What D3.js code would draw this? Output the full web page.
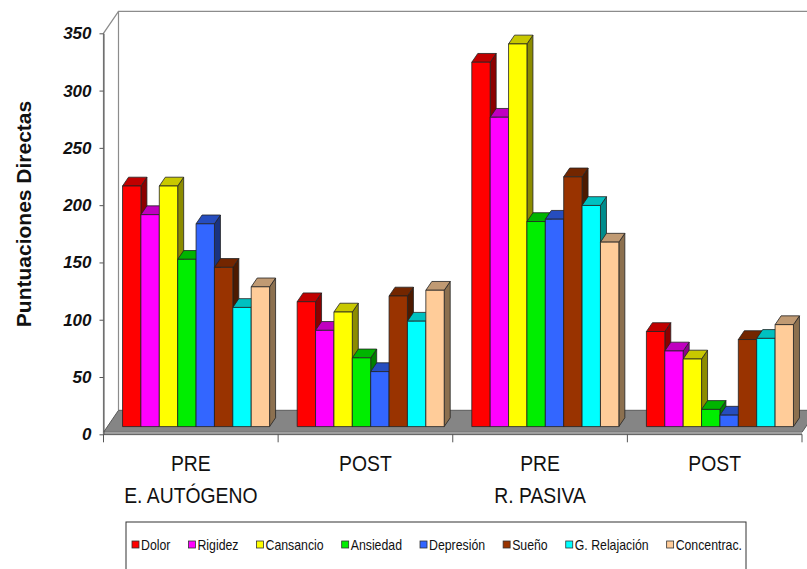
<!DOCTYPE html>
<html>
<head>
<meta charset="utf-8">
<script src="https://cdn.jsdelivr.net/npm/d3@7"></script>
<style>
  html, body { margin: 0; padding: 0; background: #fff; }
  svg { display: block; font-family: "Liberation Sans", Arial, sans-serif; }
</style>
</head>
<body>
<svg id="chart" width="807" height="569"></svg>
<script>
// Groups along the x axis (two-line labels)
const groupLine1 = ["PRE", "POST", "PRE", "POST"];
const groupLine2 = ["E. AUTÓGENO", "", "R. PASIVA", ""];

// Series names
const seriesNames = ["Dolor", "Rigidez", "Cansancio", "Ansiedad", "Depresión", "Sueño", "G. Relajación", "Concentrac."];

// Values per series, one per group
const dolor        = [210, 109, 318, 83];
const rigidez      = [185, 84, 270, 66];
const cansancio    = [210, 100, 334, 59];
const ansiedad     = [146, 60, 179, 15];
const depresion    = [177, 48, 181, 10];
const sueno        = [139, 114, 218, 76];
const gRelajacion  = [104, 92, 193, 77];
const concentrac   = [122, 119, 161, 89];

const yTicks = [0, 50, 100, 150, 200, 250, 300, 350];

// Face colours: front, top, side
const palette = [
  ["#ff0000", "#c00000", "#8c0000"],
  ["#ff00ff", "#c000c0", "#8c008c"],
  ["#ffff00", "#c8c800", "#8c8c00"],
  ["#00ee00", "#00b400", "#008000"],
  ["#3366ff", "#264dbf", "#1a3380"],
  ["#993300", "#732600", "#4d1a00"],
  ["#00ffff", "#00c0c0", "#008c8c"],
  ["#ffcc99", "#c09a73", "#8c704f"]
];

const seriesValues = [dolor, rigidez, cansancio, ansiedad, depresion, sueno, gRelajacion, concentrac];

const svg = d3.select("#chart");

// Front plane geometry and depth vector of the 3D box
const left = 103.5, right = 802;
const depth = { dx: 15, dy: -22 };
const barFront = 0.35, barBack = 0.75;

const y = d3.scaleLinear().domain([0, 350]).range([434.3, 33.3]);
const x0 = d3.scaleBand().domain(d3.range(groupLine1.length)).range([left, right]).padding(0);
const bw = x0.bandwidth();
const gap = bw * 150 / (seriesNames.length * 100 + 150);
const x1 = d3.scaleBand().domain(d3.range(seriesNames.length)).range([gap / 2, bw - gap / 2]).padding(0);

const grey = "#8c8c8c";

// Back wall and left wall outline
const top350 = y(350);
svg.append("path")
  .attr("d", `M${left},${y(0)} L${left},${top350} L${left + depth.dx},${top350 + depth.dy} L${830},${top350 + depth.dy}`)
  .attr("fill", "none").attr("stroke", grey).attr("stroke-width", 1.2);
svg.append("line")
  .attr("x1", left + depth.dx).attr("x2", left + depth.dx)
  .attr("y1", top350 + depth.dy).attr("y2", y(0) - 2 + depth.dy)
  .attr("stroke", grey).attr("stroke-width", 1.2);

// Floor slab
const fy = y(0) - 2;
svg.append("path")
  .attr("d", `M${left},${fy} L${right},${fy} L${right + depth.dx},${fy + depth.dy} L${left + depth.dx},${fy + depth.dy} Z`)
  .attr("fill", "#858585").attr("stroke", "#5a5a5a").attr("stroke-width", 1);
svg.append("path")
  .attr("d", `M${left},${fy} L${right},${fy} L${right},${fy + 3} L${left},${fy + 3} Z`)
  .attr("fill", "#b0b0b0");

// Bars: side, top, then front face, drawn left to right
const bars = svg.append("g");
const fdx = barFront * depth.dx, fdy = barFront * depth.dy;
const bdx = (barBack - barFront) * depth.dx, bdy = (barBack - barFront) * depth.dy;
const bw1 = x1.bandwidth();

const barData = [];
groupLine1.forEach((_, g) => {
  seriesNames.forEach((name, s) => {
    barData.push({ g, s, v: seriesValues[s][g] });
  });
});

barData.forEach(d => {
  const xl = x0(d.g) + x1(d.s) + fdx;
  const xr = xl + bw1;
  const yb = y(0) + fdy;
  const yt = y(d.v) + fdy;
  const c = palette[d.s];
  const g = bars.append("g").attr("stroke", "#222").attr("stroke-width", 0.8).attr("stroke-linejoin", "round");
  g.append("path")
    .attr("d", `M${xr},${yb} L${xr + bdx},${yb + bdy} L${xr + bdx},${yt + bdy} L${xr},${yt} Z`)
    .attr("fill", c[2]);
  g.append("path")
    .attr("d", `M${xl},${yt} L${xr},${yt} L${xr + bdx},${yt + bdy} L${xl + bdx},${yt + bdy} Z`)
    .attr("fill", c[1]);
  g.append("rect")
    .attr("x", xl).attr("y", yt).attr("width", bw1).attr("height", yb - yt)
    .attr("fill", c[0]);
});

// Y axis
const yAxis = svg.append("g")
  .attr("transform", `translate(${left},0)`)
  .call(d3.axisLeft(y).tickValues(yTicks).tickSize(4).tickSizeOuter(0).tickPadding(8));
yAxis.select(".domain").attr("stroke", "#555");
yAxis.selectAll(".tick line").attr("stroke", "#555");
yAxis.selectAll(".tick text")
  .attr("font-family", "'Liberation Sans', Arial, sans-serif")
  .attr("font-size", 17).attr("font-weight", "bold").attr("font-style", "italic")
  .attr("fill", "#111");

// X axis line and band separators
const xa = svg.append("g");
xa.append("line").attr("x1", left).attr("x2", right).attr("y1", y(0)).attr("y2", y(0))
  .attr("stroke", "#555").attr("stroke-width", 1);
xa.selectAll("line.sep").data(d3.range(groupLine1.length + 1)).join("line")
  .attr("class", "sep")
  .attr("x1", i => left + i * bw).attr("x2", i => left + i * bw)
  .attr("y1", y(0)).attr("y2", y(0) + 8)
  .attr("stroke", "#555");

// Category labels (slightly condensed)
const labels = svg.append("g").attr("font-size", 21.5).attr("fill", "#111").attr("text-anchor", "middle");
labels.selectAll("text.l1").data(groupLine1).join("text")
  .attr("class", "l1")
  .attr("transform", (d, i) => `translate(${x0(i) + bw / 2},471) scale(0.9,1)`)
  .text(d => d);
labels.selectAll("text.l2").data(groupLine2).join("text")
  .attr("class", "l2")
  .attr("transform", (d, i) => `translate(${x0(i) + bw / 2},503) scale(0.9,1)`)
  .text(d => d);

// Y axis title
svg.append("text")
  .attr("transform", "translate(31,214) rotate(-90)")
  .attr("text-anchor", "middle")
  .attr("font-size", 21).attr("font-weight", "bold").attr("fill", "#111")
  .text("Puntuaciones Directas");

// Legend
const legend = svg.append("g");
legend.append("rect")
  .attr("x", 126).attr("y", 522).attr("width", 620).attr("height", 60)
  .attr("fill", "#fff").attr("stroke", "#333").attr("stroke-width", 1);
const items = legend.selectAll("g.item").data(seriesNames).join("g").attr("class", "item");
items.append("rect")
  .attr("width", 7).attr("height", 7).attr("y", -4)
  .attr("fill", (d, i) => palette[i][0]).attr("stroke", "#333").attr("stroke-width", 0.8);
const sx = 0.88;
items.append("text")
  .attr("transform", `translate(9,0) scale(${sx},1)`)
  .attr("dy", "0.36em")
  .attr("font-size", 14).attr("fill", "#111")
  .text(d => d);
let widths = [];
items.each(function () {
  widths.push(9 + sx * this.querySelector("text").getComputedTextLength());
});
const x0Leg = 132, x1Leg = 742;
const itemGap = (x1Leg - x0Leg - d3.sum(widths)) / (widths.length - 1);
let cx = x0Leg;
items.each(function (d, i) {
  d3.select(this).attr("transform", `translate(${cx},545)`);
  cx += widths[i] + itemGap;
});
</script>
</body>
</html>
